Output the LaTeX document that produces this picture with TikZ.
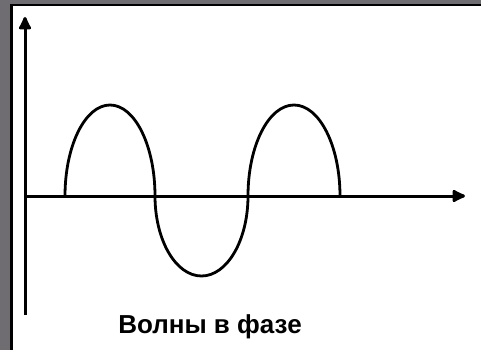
\documentclass[tikz,border=0pt]{standalone}
\usepackage{fontspec}
\setmainfont{Liberation Sans}
\usetikzlibrary{arrows.meta}
\definecolor{framegray}{RGB}{112,109,114}
\begin{document}
\begin{tikzpicture}[x=1pt,y=-1pt,
  axis/.style={line width=3pt,-{Latex[length=16pt,width=15pt,round]}},
  wave/.style={line width=2.8pt},
  caption/.style={font=\bfseries\fontsize{26}{30}\selectfont,anchor=base,inner sep=0pt}]
\useasboundingbox (0,0) rectangle (481,350);
\fill[white] (0,0) rectangle (481,350);
\fill[framegray] (0,0) rectangle (481,4);
\fill[framegray] (0,0) rectangle (10,350);
\fill[black] (10,4) rectangle (481,6.5);
\fill[black] (10,4) rectangle (13,350);
% axes
\coordinate (o) at (25,196);
\coordinate (ytip) at (25,17);
\coordinate (ybot) at (25,315);
\coordinate (xtip) at (465,196);
\draw[axis] (ybot) -- (ytip);
\draw[axis] (o) -- (xtip);
% wave
\coordinate (w0) at (65,196);
\draw[wave] (w0) arc[start angle=180,end angle=360,x radius=45,y radius=91]
  arc[start angle=180,end angle=0,x radius=46.5,y radius=80]
  arc[start angle=180,end angle=360,x radius=46,y radius=91];
\node[caption] (cap) at (210,333) {Волны в фазе};
\end{tikzpicture}
\end{document}
